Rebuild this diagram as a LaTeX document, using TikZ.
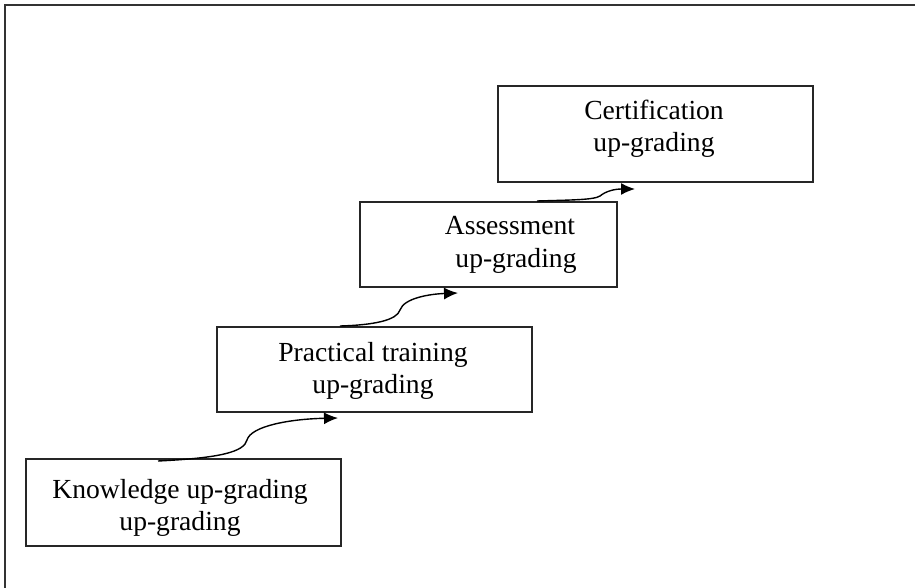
\documentclass[tikz,border=0pt]{standalone}
\usepackage{fontspec}
\setmainfont{Liberation Serif}
\usepackage{tikz}
\usetikzlibrary{arrows.meta}
\tikzset{
box/.style={draw=black!85, line width=0.75pt, inner sep=0pt, minimum width=157.5pt}, % step boxes
steptext/.style={align=center, font=\fontsize{13.8}{16.2}\selectfont}, % text inside the boxes
flow/.style={line width=0.7pt, -{Latex[length=7pt,width=6pt]}}, % curved arrows between the steps
}
\begin{document}
\begin{tikzpicture}[x=0.5pt, y=-0.5pt]
        \useasboundingbox (0,0) rectangle (915,588);
        % frame
        \draw[line width=1pt, black!80] (5,588) -- (5,5) -- (915,5);
        % boxes
        \node[box, minimum height=43.5pt] (know) at (183.5,502.5) {};
        \node[box, minimum height=42.5pt] (prac) at (374.5,369.5) {};
        \node[box, minimum height=42.5pt, minimum width=128.5pt] (assess) at (488.5,244.5) {};
        \node[box, minimum height=48pt] (cert) at (655.5,134) {};
        % texts
        \node[steptext] (knowtext) at (180,508) {Knowledge up-grading\\up-grading};
        \node[steptext] (practext) at (373,371) {Practical training\\up-grading};
        \node[steptext] (assesstext) at (510,245) {Assessment\\\hspace*{6pt}up-grading};
        \node[steptext] (certtext) at (654,129) {Certification\\up-grading};
        % arrows
        \coordinate (s1) at (158,461);
        \coordinate (e1) at (338,418);
        \coordinate (s2) at (340,326);
        \coordinate (e2) at (458,293);
        \coordinate (s3) at (537,201);
        \coordinate (e3) at (635,189);
        \draw[flow] (s1) .. controls (220,458) and (244,452) .. (247,440)
                         .. controls (251,426) and (290,419) .. (e1);
        \draw[flow] (s2) .. controls (375,325) and (397,320) .. (400,310)
                         .. controls (404,298) and (430,294) .. (e2);
        \draw[flow] (s3) .. controls (570,200) and (594,200) .. (600,196)
                         .. controls (606,191) and (615,189) .. (e3);
\end{tikzpicture}
\end{document}
